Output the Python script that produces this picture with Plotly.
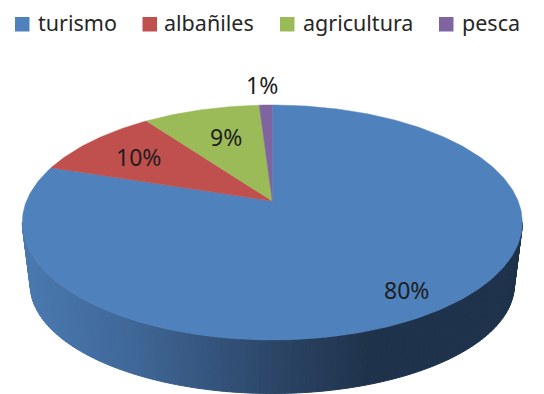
import math
import plotly.graph_objects as go

categories = ["turismo", "albañiles", "agricultura", "pesca"]
values = [80, 10, 9, 1]
colors = ["#4f81bd", "#c0504d", "#9bbb59", "#8064a2"]

# drawing geometry (page pixels)
W, H = 544, 394
TOP = dict(cx=272.3, cy=222.5, rx=250, ry=117.5)
BOTTOM = dict(cx=272.3, cy=285, rx=242, ry=108.5)
PERSPECTIVE = 0.183
LABEL_XY = [(406, 289.5), (138, 156.5), (226, 136.5), (262, 84.5)]
LEGEND_SWATCH_X = [15, 142.5, 280, 439]
LEGEND_TEXT_X = [35.5, 161.5, 300.5, 459.5]
LEGEND_Y = 22.5
LEGEND_SWATCH_Y = 24.5
SIDE_STOPS = [(22, (74, 122, 177)), (130, (64, 104, 153)), (272, (44, 70, 104)),
              (370, (31, 50, 75)), (530, (31, 50, 75))]


def on_rim(angle):
    """Clockwise pie angle (radians from top) to a point on the tilted rim."""
    u, v = math.sin(angle), math.cos(angle)
    a = PERSPECTIVE
    d = 1 + a * v
    return (TOP["cx"] + TOP["rx"] * u * math.sqrt(1 - a * a) / d,
            TOP["cy"] - TOP["ry"] * (v + a) / d)


def apex():
    return TOP["cx"], TOP["cy"] - TOP["ry"] * PERSPECTIVE


def side_colour(x):
    for (x0, c0), (x1, c1) in zip(SIDE_STOPS, SIDE_STOPS[1:]):
        if x <= x1:
            t = max(0, (x - x0) / (x1 - x0))
            return "rgb(%d,%d,%d)" % tuple(round(p + (q - p) * t) for p, q in zip(c0, c1))
    return "rgb(%d,%d,%d)" % SIDE_STOPS[-1][1]


fig = go.Figure()

# side wall, drawn as thin strips between the top and bottom rims
STRIPS = 120
for i in range(STRIPS):
    t0 = math.pi + math.pi * i / STRIPS
    t1 = math.pi + math.pi * (i + 1) / STRIPS
    xs, ys = [], []
    for t in (t0, t1):
        xs.append(TOP["cx"] + TOP["rx"] * math.cos(t))
        ys.append(TOP["cy"] - TOP["ry"] * math.sin(t))
    for t in (t1, t0):
        xs.append(BOTTOM["cx"] + BOTTOM["rx"] * math.cos(t))
        ys.append(BOTTOM["cy"] - BOTTOM["ry"] * math.sin(t))
    col = side_colour(sum(xs) / 4)
    fig.add_trace(go.Scatter(x=xs + xs[:1], y=ys + ys[:1], mode="lines", fill="toself",
                             fillcolor=col, line=dict(color=col, width=1),
                             showlegend=False, hoverinfo="skip"))

# top face slices, clockwise from the top of the pie
total = sum(values)
start = 0.0
for name, value, colour in zip(categories, values, colors):
    end = start + value / total * 2 * math.pi
    n = max(4, int(value * 4))
    pts = [on_rim(start + (end - start) * k / n) for k in range(n + 1)]
    ax, ay = apex()
    xs = [ax] + [p[0] for p in pts] + [ax]
    ys = [ay] + [p[1] for p in pts] + [ay]
    fig.add_trace(go.Scatter(x=xs, y=ys, mode="lines", fill="toself", fillcolor=colour,
                             line=dict(color=colour, width=0.5), name=name,
                             showlegend=False, hoverinfo="skip"))
    start = end

annotations = [
    dict(x=x, y=y, text=f"{v}%", showarrow=False, xref="x", yref="y",
         font=dict(family="Noto Sans", size=23, color="#1e1e1e"))
    for v, (x, y) in zip(values, LABEL_XY)
]
annotations += [
    dict(x=x, y=LEGEND_Y, text=name, showarrow=False, xref="x", yref="y", xanchor="left",
         font=dict(family="Noto Sans", size=21.5, color="#262626"))
    for name, x in zip(categories, LEGEND_TEXT_X)
]
shapes = [
    dict(type="rect", xref="x", yref="y", x0=x, x1=x + 14.5,
         y0=LEGEND_SWATCH_Y - 7.5, y1=LEGEND_SWATCH_Y + 7,
         fillcolor=colour, line=dict(width=0))
    for x, colour in zip(LEGEND_SWATCH_X, colors)
]

fig.update_layout(
    width=W, height=H, margin=dict(l=0, r=0, t=0, b=0),
    paper_bgcolor="white", plot_bgcolor="white",
    xaxis=dict(range=[0, W], visible=False, fixedrange=True),
    yaxis=dict(range=[H, 0], visible=False, fixedrange=True),
    annotations=annotations,
    shapes=shapes,
    showlegend=False,
)
fig.write_html("out.html", config=dict(displayModeBar=False),
               post_script="document.body.style.margin='0';document.body.style.overflow='hidden';")
